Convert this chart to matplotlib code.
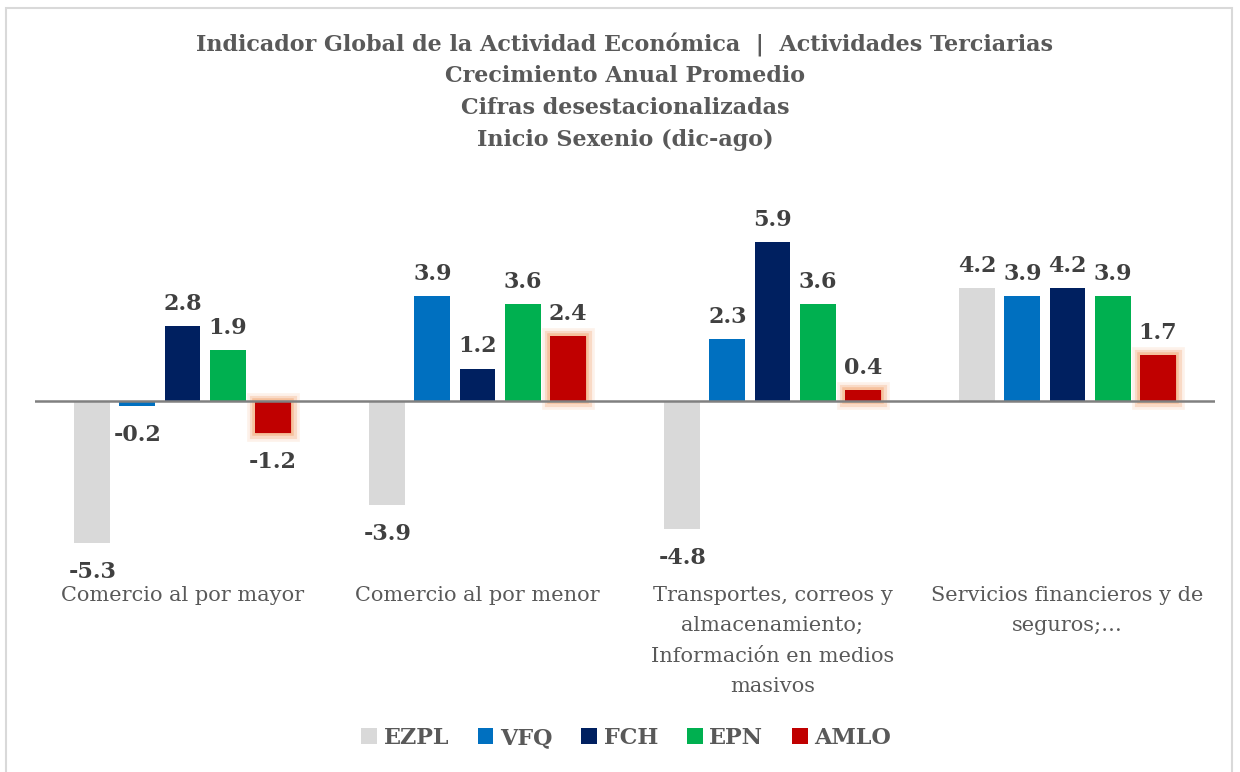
import matplotlib
matplotlib.use("Agg")
import matplotlib.pyplot as plt
import matplotlib.patheffects as pe
from matplotlib.patches import Rectangle, Patch
import numpy as np

plt.rcParams['font.family'] = ['DejaVu Serif']

categorias = ["Comercio al por mayor",
              "Comercio al por menor",
              "Transportes, correos y\nalmacenamiento;\nInformación en medios\nmasivos",
              "Servicios financieros y de\nseguros;…"]
series = ["EZPL", "VFQ", "FCH", "EPN", "AMLO"]
ezpl = [-5.3, -3.9, -4.8, 4.2]
vfq = [-0.2, 3.9, 2.3, 3.9]
fch = [2.8, 1.2, 5.9, 4.2]
epn = [1.9, 3.6, 3.6, 3.9]
amlo = [-1.2, 2.4, 0.4, 1.7]
colores = ["#D9D9D9", "#0070C0", "#002060", "#00B050", "#C00000"]

titulo = ["Indicador Global de la Actividad Económica  |  Actividades Terciarias",
          "Crecimiento Anual Promedio",
          "Cifras desestacionalizadas",
          "Inicio Sexenio (dic-ago)"]

fig = plt.figure(figsize=(12.4, 7.72), dpi=100)
W, H = 1240, 772
ax = fig.add_axes([35 / W, 1 - 575 / H, 1180 / W, 362 / H])

x = np.arange(len(categorias))
paso = 0.153
ancho = 0.122
valores = [ezpl, vfq, fch, epn, amlo]

# brillo naranja alrededor de las barras de AMLO
glow = [pe.Stroke(linewidth=12, foreground="#F8CBAD", alpha=0.25),
        pe.Stroke(linewidth=8, foreground="#F4B183", alpha=0.35),
        pe.Stroke(linewidth=4, foreground="#F4B183", alpha=0.6),
        pe.Normal()]

for i, (nombre, vals, col) in enumerate(zip(series, valores, colores)):
    pos = x + (i - 2) * paso
    barras = ax.bar(pos, vals, ancho, color=col, linewidth=0, zorder=3)
    if nombre == "AMLO":
        for b in barras:
            b.set_path_effects(glow)
    for p, v in zip(pos, vals):
        off = 8 if v >= 0 else -13
        ax.annotate(f"{v:.1f}", (p, v), xytext=(0, off), textcoords="offset points",
                    ha="center", va="bottom" if v >= 0 else "top",
                    fontsize=16, fontweight="bold", color="#404040", zorder=5)

ax.axhline(0, color="#808080", linewidth=1.8, zorder=4)
ax.set_xlim(-0.5, len(categorias) - 0.5)
ax.set_ylim(-6.5, 7)
ax.set_yticks([])
ax.set_xticks(x)
ax.set_xticklabels(categorias, fontsize=15, color="#595959", linespacing=1.75, va="top")
ax.tick_params(axis="x", length=0, pad=8)
for s in ax.spines.values():
    s.set_visible(False)

for k, linea in enumerate(titulo):
    fig.text(0.504, 1 - (45 + k * 31.5) / H, linea, ha="center", va="center",
             fontsize=16, fontweight="bold", color="#595959")

handles = [Patch(facecolor=c, edgecolor="none") for c in colores]
leg = fig.legend(handles, series, loc="center", bbox_to_anchor=(0.505, 1 - 738 / H), ncol=5,
                 frameon=False, handlelength=0.7, handleheight=0.7,
                 columnspacing=1.3, handletextpad=0.3,
                 prop={"size": 16, "weight": "bold"})
for t in leg.get_texts():
    t.set_color("#595959")

fig.patches.append(Rectangle((6 / W, -0.02), 1226 / W, 1 - 8 / H + 0.02,
                             transform=fig.transFigure, fill=False,
                             edgecolor="#D9D9D9", linewidth=1.5))

fig.savefig("out.png", dpi=100)
